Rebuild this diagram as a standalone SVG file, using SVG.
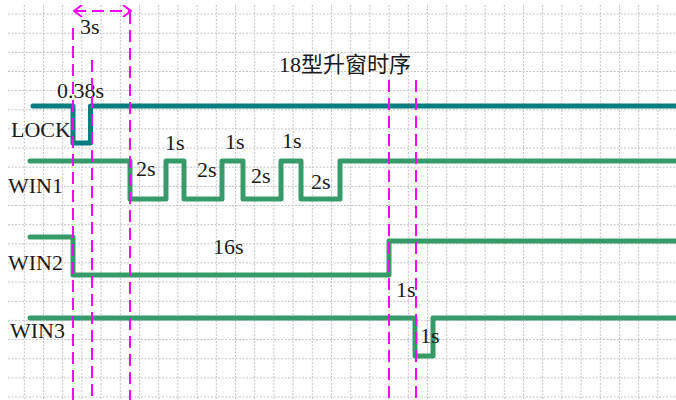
<svg xmlns="http://www.w3.org/2000/svg" width="676" height="400" viewBox="0 0 676 400">
<style>
.grid line{stroke:#c4c4c4;stroke-width:1;stroke-dasharray:2 1.5}
.t{font-family:"Liberation Serif","Noto Sans CJK SC",serif;font-size:22px;fill:#1a1a1a}
.sig{fill:none;stroke-width:5;stroke-linejoin:round;stroke-linecap:round}
.lock{stroke:#067d80}
.win{stroke:#379b69}
.mk{stroke:#ff00ff;stroke-width:2;stroke-dasharray:12 6;fill:none}
</style>
<defs>
<marker id="chev" viewBox="0 0 10 12" refX="9" refY="6" markerWidth="10" markerHeight="12" markerUnits="userSpaceOnUse" orient="auto-start-reverse">
<path d="M1,0 L9,6 L1,12" fill="none" stroke="#ff00ff" stroke-width="2"/>
</marker>
</defs>
<rect width="676" height="400" fill="#ffffff"/>
<g class="grid">
<line x1="8" y1="14" x2="676" y2="14"/>
<line x1="8" y1="33.2" x2="676" y2="33.2"/>
<line x1="8" y1="52.3" x2="676" y2="52.3"/>
<line x1="8" y1="71.5" x2="676" y2="71.5"/>
<line x1="8" y1="90.6" x2="676" y2="90.6"/>
<line x1="8" y1="109.8" x2="676" y2="109.8"/>
<line x1="8" y1="128.9" x2="676" y2="128.9"/>
<line x1="8" y1="148" x2="676" y2="148"/>
<line x1="8" y1="167.2" x2="676" y2="167.2"/>
<line x1="8" y1="186.4" x2="676" y2="186.4"/>
<line x1="8" y1="205.5" x2="676" y2="205.5"/>
<line x1="8" y1="224.7" x2="676" y2="224.7"/>
<line x1="8" y1="243.8" x2="676" y2="243.8"/>
<line x1="8" y1="262.9" x2="676" y2="262.9"/>
<line x1="8" y1="282.1" x2="676" y2="282.1"/>
<line x1="8" y1="301.3" x2="676" y2="301.3"/>
<line x1="8" y1="320.4" x2="676" y2="320.4"/>
<line x1="8" y1="339.5" x2="676" y2="339.5"/>
<line x1="8" y1="358.7" x2="676" y2="358.7"/>
<line x1="8" y1="377.9" x2="676" y2="377.9"/>
<line x1="8" y1="397" x2="676" y2="397"/>
<line x1="24.3" y1="5" x2="24.3" y2="400"/>
<line x1="43.5" y1="5" x2="43.5" y2="400"/>
<line x1="62.7" y1="5" x2="62.7" y2="400"/>
<line x1="81.9" y1="5" x2="81.9" y2="400"/>
<line x1="101.1" y1="5" x2="101.1" y2="400"/>
<line x1="120.3" y1="5" x2="120.3" y2="400"/>
<line x1="139.5" y1="5" x2="139.5" y2="400"/>
<line x1="158.7" y1="5" x2="158.7" y2="400"/>
<line x1="177.9" y1="5" x2="177.9" y2="400"/>
<line x1="197.1" y1="5" x2="197.1" y2="400"/>
<line x1="216.3" y1="5" x2="216.3" y2="400"/>
<line x1="235.5" y1="5" x2="235.5" y2="400"/>
<line x1="254.7" y1="5" x2="254.7" y2="400"/>
<line x1="273.9" y1="5" x2="273.9" y2="400"/>
<line x1="293.1" y1="5" x2="293.1" y2="400"/>
<line x1="312.3" y1="5" x2="312.3" y2="400"/>
<line x1="331.5" y1="5" x2="331.5" y2="400"/>
<line x1="350.7" y1="5" x2="350.7" y2="400"/>
<line x1="369.9" y1="5" x2="369.9" y2="400"/>
<line x1="389.1" y1="5" x2="389.1" y2="400"/>
<line x1="408.3" y1="5" x2="408.3" y2="400"/>
<line x1="427.5" y1="5" x2="427.5" y2="400"/>
<line x1="446.7" y1="5" x2="446.7" y2="400"/>
<line x1="465.9" y1="5" x2="465.9" y2="400"/>
<line x1="485.1" y1="5" x2="485.1" y2="400"/>
<line x1="504.3" y1="5" x2="504.3" y2="400"/>
<line x1="523.5" y1="5" x2="523.5" y2="400"/>
<line x1="542.7" y1="5" x2="542.7" y2="400"/>
<line x1="561.9" y1="5" x2="561.9" y2="400"/>
<line x1="581.1" y1="5" x2="581.1" y2="400"/>
<line x1="600.3" y1="5" x2="600.3" y2="400"/>
<line x1="619.5" y1="5" x2="619.5" y2="400"/>
<line x1="638.7" y1="5" x2="638.7" y2="400"/>
<line x1="657.9" y1="5" x2="657.9" y2="400"/>
</g>
<text class="t" x="279" y="72">18型升窗时序</text>
<g id="lock">
<path class="sig lock" d="M33,106 H73 V143 H90.5 V106 H680"/>
<text class="t" x="11" y="137">LOCK</text>
<text class="t" x="57" y="98">0.38s</text>
</g>
<g id="win1">
<path class="sig win" d="M30,161 H130 V199 H166 V161 H184 V199 H222 V161 H243 V199 H281 V161 H301 V199 H340 V161 H680"/>
<text class="t" x="8" y="193">WIN1</text>
<text class="t" x="136" y="176">2s</text>
<text class="t" x="165" y="150">1s</text>
<text class="t" x="197" y="177">2s</text>
<text class="t" x="225" y="149">1s</text>
<text class="t" x="251" y="183">2s</text>
<text class="t" x="282" y="148">1s</text>
<text class="t" x="311" y="189">2s</text>
</g>
<g id="win2">
<path class="sig win" d="M30,237 H73 V275 H389 V241 H680"/>
<text class="t" x="8" y="270">WIN2</text>
<text class="t" x="213" y="254">16s</text>
<text class="t" x="396" y="297">1s</text>
</g>
<g id="win3">
<path class="sig win" d="M30,318 H415 V356 H433 V318 H680"/>
<text class="t" x="10" y="338">WIN3</text>
<text class="t" x="420" y="343">1s</text>
</g>
<g id="connectors">
<line class="mk" x1="73" y1="28" x2="73" y2="400"/>
<line class="mk" x1="92" y1="60" x2="92" y2="400"/>
<line class="mk" x1="130" y1="12" x2="130" y2="400"/>
<line class="mk" x1="389" y1="80" x2="389" y2="400"/>
<line class="mk" x1="416" y1="80" x2="416" y2="400"/>
<line class="mk" x1="74" y1="11" x2="131" y2="11" stroke-dasharray="10 6" marker-start="url(#chev)" marker-end="url(#chev)"/>
<text class="t" x="80" y="34">3s</text>
</g>
</svg>
